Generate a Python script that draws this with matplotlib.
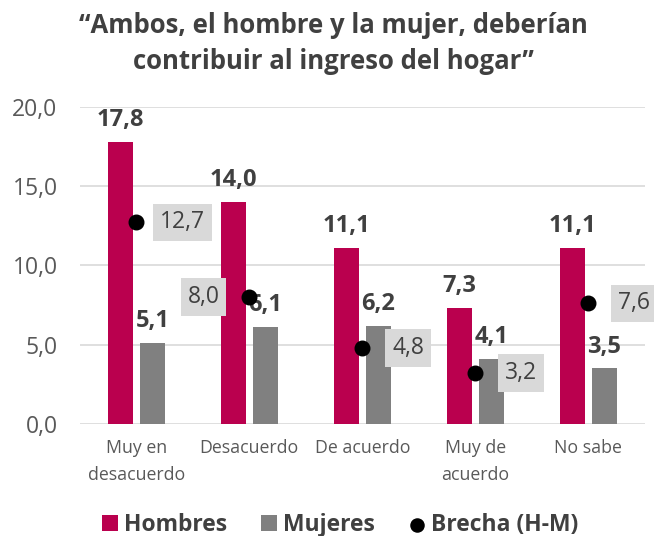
import matplotlib.pyplot as plt
import numpy as np

plt.rcParams['font.family'] = ['Open Sans', 'DejaVu Sans']

# Datos
categorias = ['Muy en\ndesacuerdo', 'Desacuerdo', 'De acuerdo', 'Muy de\nacuerdo', 'No sabe']
hombres = [17.8, 14.0, 11.1, 7.3, 11.1]
mujeres = [5.1, 6.1, 6.2, 4.1, 3.5]
brecha = [12.7, 8.0, 4.8, 3.2, 7.6]
lado_etiqueta = [1, -1, 1, 1, 1]   # lado de la etiqueta de la brecha

col_h = '#BA004E'
col_m = '#808080'
col_txt = '#404040'

fig = plt.figure(figsize=(6.54, 5.36), dpi=100)
ax = fig.add_axes([0.122, 0.209, 0.864, 0.592])

x = np.arange(len(categorias))
w = 0.22
off = 0.142
b1 = ax.bar(x - off, hombres, w, color=col_h, label='Hombres', zorder=2)
b2 = ax.bar(x + off, mujeres, w, color=col_m, label='Mujeres', zorder=2)
sc = ax.scatter(x, brecha, s=110, color='black', zorder=4, label='Brecha (H-M)')

def fmt(v):
    return f'{v:.1f}'.replace('.', ',')

for xi, h, m in zip(x, hombres, mujeres):
    ax.annotate(fmt(h), (xi - off, h), xytext=(0, 7), textcoords='offset points',
                ha='center', va='bottom', fontsize=17, fontweight='bold', color=col_txt)
    ax.annotate(fmt(m), (xi + off, m), xytext=(0, 7), textcoords='offset points',
                ha='center', va='bottom', fontsize=17, fontweight='bold', color=col_txt)

for xi, b, s in zip(x, brecha, lado_etiqueta):
    ax.annotate(fmt(b), (xi, b), xytext=(s * 33, 0), textcoords='offset points',
                ha='center', va='center', fontsize=16.5, color=col_txt, zorder=5,
                bbox=dict(boxstyle='square,pad=0.3', fc='#D9D9D9', ec='none'))

ax.set_xlim(-0.5, len(categorias) - 0.5)
ax.set_ylim(0, 20)
ax.set_yticks(np.arange(0, 21, 5))
ax.set_yticklabels([fmt(v) for v in np.arange(0, 21, 5)])
ax.set_xticks(x)
ax.set_xticklabels(categorias, fontsize=12.8, color='#595959', linespacing=1.65)
ax.tick_params(axis='y', labelsize=16.5, labelcolor='#595959', length=0, pad=16)
ax.tick_params(axis='x', length=0, pad=11)
ax.grid(axis='y', color='#D9D9D9', lw=1.2, zorder=0)
for sp in ax.spines.values():
    sp.set_visible(False)

fig.text(0.51, 0.978, '“Ambos, el hombre y la mujer, deberían\ncontribuir al ingreso del hogar”',
         ha='center', va='top', fontsize=18.5, fontweight='bold', color=col_txt, linespacing=1.45)

leg = fig.legend([b1, b2, sc], ['Hombres', 'Mujeres', 'Brecha (H-M)'],
                 loc='lower center', bbox_to_anchor=(0.52, -0.04), ncol=3, frameon=False,
                 prop={'size': 16.5, 'weight': 'bold'}, handlelength=0.7, handleheight=0.7,
                 handletextpad=0.25, columnspacing=1.5, markerscale=0.9)
for t in leg.get_texts():
    t.set_color(col_txt)

fig.savefig('out.png', dpi=100)
